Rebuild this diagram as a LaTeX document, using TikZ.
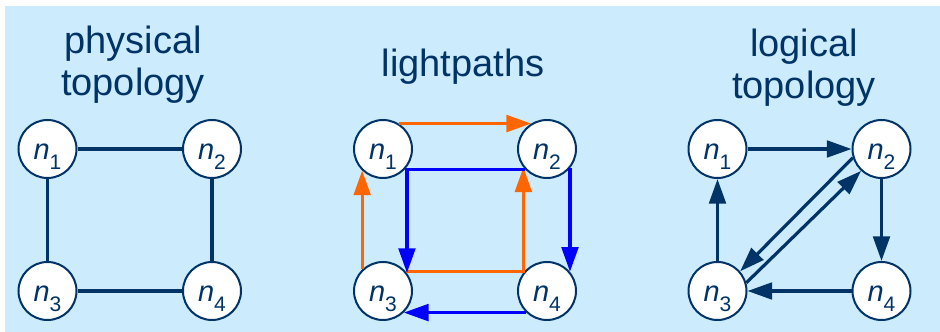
\documentclass[tikz,border=0pt]{standalone}
\usepackage{fontspec}
\setmainfont{Liberation Sans}
\usetikzlibrary{arrows.meta}
\definecolor{navy}{RGB}{0,51,102}
\definecolor{bgblue}{RGB}{204,235,252}
\definecolor{lporange}{RGB}{255,102,0}
\definecolor{lpblue}{RGB}{0,0,255}
\newcommand{\nsub}[1]{{\itshape n}\raisebox{-7.5pt}{\fontsize{15.75pt}{16pt}\selectfont #1}}

\begin{document}
\begin{tikzpicture}[
      x=0.75pt, y=0.75pt,
      station/.style={
        circle,
        draw=navy,
        fill=white,
        line width=1.5pt,
        inner sep=0pt,
        minimum size=43.5pt,
        text=navy,
        font=\fontsize{21.75pt}{22pt}\selectfont,
        text height=16.5pt,
        text depth=0pt
      },
      titel/.style={
        text=navy,
        align=center,
        anchor=base,
        font=\fontsize{28.5pt}{31.5pt}\selectfont
      },
      fibre/.style={navy, line width=2.4pt},
      lpath/.style={line width=2.4pt, -{Triangle[length=18.5pt,width=12.5pt]}}
    ]
      \useasboundingbox (0,0) rectangle (940,332);
      \fill[bgblue] (5,0) rectangle (940,326);

      \node (t1) at (133,236) [titel]{physical\\topology};
      \node (t2) at (463,255) [titel]{lightpaths};
      \node (t3) at (804,233) [titel]{logical\\topology};

      \node (p1) at (47.5,183) [station]{\nsub{1}};
      \node (p2) at (212,183) [station]{\nsub{2}};
      \node (p3) at (47.5,41) [station]{\nsub{3}};
      \node (p4) at (212,41) [station]{\nsub{4}};

      \node (l1) at (383,183) [station]{\nsub{1}};
      \node (l2) at (547,183) [station]{\nsub{2}};
      \node (l3) at (383,41) [station]{\nsub{3}};
      \node (l4) at (547,41) [station]{\nsub{4}};

      \node (g1) at (717.5,183) [station]{\nsub{1}};
      \node (g2) at (881.5,183) [station]{\nsub{2}};
      \node (g3) at (717.5,41) [station]{\nsub{3}};
      \node (g4) at (881.5,41) [station]{\nsub{4}};

      \draw[fibre] (p1) -- (p2);
      \draw[fibre] (p1) -- (p3);
      \draw[fibre] (p2) -- (p4);
      \draw[fibre] (p3) -- (p4);

      \draw[lpath, lporange] (l3.134) -- (l1.226);
      \draw[lpath, lporange] (l1.58) -- (l2.122);
      \draw[lpath, lporange] (l3.41) -| (l2.218);

      \draw[lpath, lpblue] (l2.224) -| (l3.37);
      \draw[lpath, lpblue] (l2.-40) -- (l4.40);
      \draw[lpath, lpblue] (l4.226) -- (l3.-46);

      \draw[lpath, navy] (g1) -- (g2);
      \draw[lpath, navy] (g3) -- (g1);
      \draw[lpath, navy] (g2) -- (g4);
      \draw[lpath, navy] (g4) -- (g3);
      \draw[lpath, navy] (g2.197) -- (g3.41);
      \draw[lpath, navy] (g3.16) -- (g2.227);

    \end{tikzpicture}
\end{document}
